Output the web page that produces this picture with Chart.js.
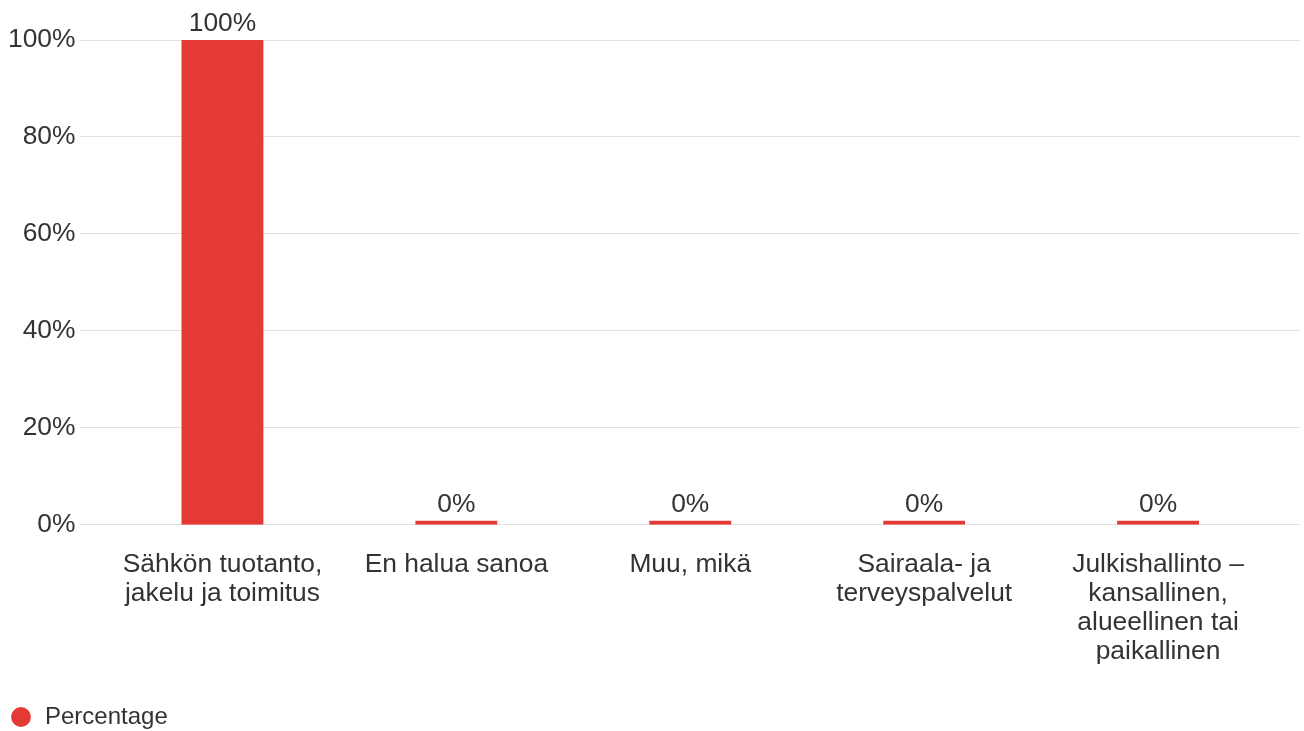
<!DOCTYPE html>
<html>
<head>
<meta charset="utf-8">
<script src="https://cdn.jsdelivr.net/npm/chart.js@4.4.1/dist/chart.umd.min.js"></script>
<style>
  html, body { margin: 0; padding: 0; background: #fff; }
  #wrap { width: 1304px; height: 731px; position: relative; }
</style>
</head>
<body>
<div id="wrap"><canvas id="chart"></canvas></div>
<script>
// chart data
const categories = [
  ['Sähkön tuotanto,', 'jakelu ja toimitus'],
  ['En halua sanoa'],
  ['Muu, mikä'],
  ['Sairaala- ja', 'terveyspalvelut'],
  ['Julkishallinto –', 'kansallinen,', 'alueellinen tai', 'paikallinen']
];
const percentages = [100, 0, 0, 0, 0];
const seriesName = 'Percentage';

const barColor = '#e53935';
const textColor = '#333333';
const gridColor = '#e0e0e0';
const fontFamily = '"Liberation Sans", Arial, sans-serif';
const fontSize = 26.4;

// draws the value above each bar
const valueLabels = {
    id: 'valueLabels',
    afterDatasetsDraw(chart) {
        const ctx = chart.ctx;
        const meta = chart.getDatasetMeta(0);
        ctx.save();
        ctx.font = fontSize + 'px ' + fontFamily;
        ctx.fillStyle = textColor;
        ctx.textAlign = 'center';
        ctx.textBaseline = 'bottom';
        meta.data.forEach(function(bar, i) {
            ctx.fillText(percentages[i] + '%', bar.x, bar.y - 3);
        });
        ctx.restore();
    }
};

// horizontal grid lines, running a little past both sides of the plot
const gridLines = {
    id: 'gridLines',
    beforeDatasetsDraw(chart) {
        const ctx = chart.ctx;
        const y = chart.scales.y;
        const area = chart.chartArea;
        ctx.save();
        ctx.strokeStyle = gridColor;
        ctx.lineWidth = 1;
        y.ticks.forEach(function(t) {
            const py = Math.round(y.getPixelForValue(t.value) - 0.5) + 0.5;
            ctx.beginPath();
            ctx.moveTo(area.left - 25, py);
            ctx.lineTo(area.right + 25, py);
            ctx.stroke();
        });
        ctx.restore();
    }
};

const ctx = document.getElementById('chart').getContext('2d');
const chart = new Chart(ctx, {
    type: 'bar',
    data: {
        labels: categories,
        datasets: [{
            label: seriesName,
            data: percentages,
            backgroundColor: barColor,
            borderWidth: 0,
            categoryPercentage: 1,
            barPercentage: 0.35,
            minBarLength: 4
        }]
    },
    options: {
        responsive: true,
        maintainAspectRatio: false,
        animation: false,
        layout: {
            padding: { top: 40, right: 29, left: 3, bottom: -8 }
        },
        plugins: {
            legend: {
                position: 'bottom',
                align: 'start',
                labels: {
                    usePointStyle: true,
                    pointStyle: 'circle',
                    boxWidth: 24,
                    boxHeight: 14,
                    padding: 6,
                    color: textColor,
                    font: { family: fontFamily, size: 24 }
                }
            },
            tooltip: { enabled: false }
        },
        scales: {
            x: {
                grid: { display: false, drawTicks: false },
                border: { display: false },
                afterFit: function(scale) { scale.height += 8; },
                ticks: {
                    color: textColor,
                    padding: 25,
                    maxRotation: 0,
                    autoSkip: false,
                    font: { family: fontFamily, size: fontSize, lineHeight: 1.1 }
                }
            },
            y: {
                min: 0,
                max: 100,
                grid: { display: false, drawTicks: true, tickLength: 25 },
                border: { display: false },
                ticks: {
                    stepSize: 20,
                    padding: 5,
                    color: textColor,
                    font: { family: fontFamily, size: fontSize },
                    callback: function(v) { return v + '%'; }
                }
            }
        }
    },
    plugins: [valueLabels, gridLines]
});
</script>
</body>
</html>
